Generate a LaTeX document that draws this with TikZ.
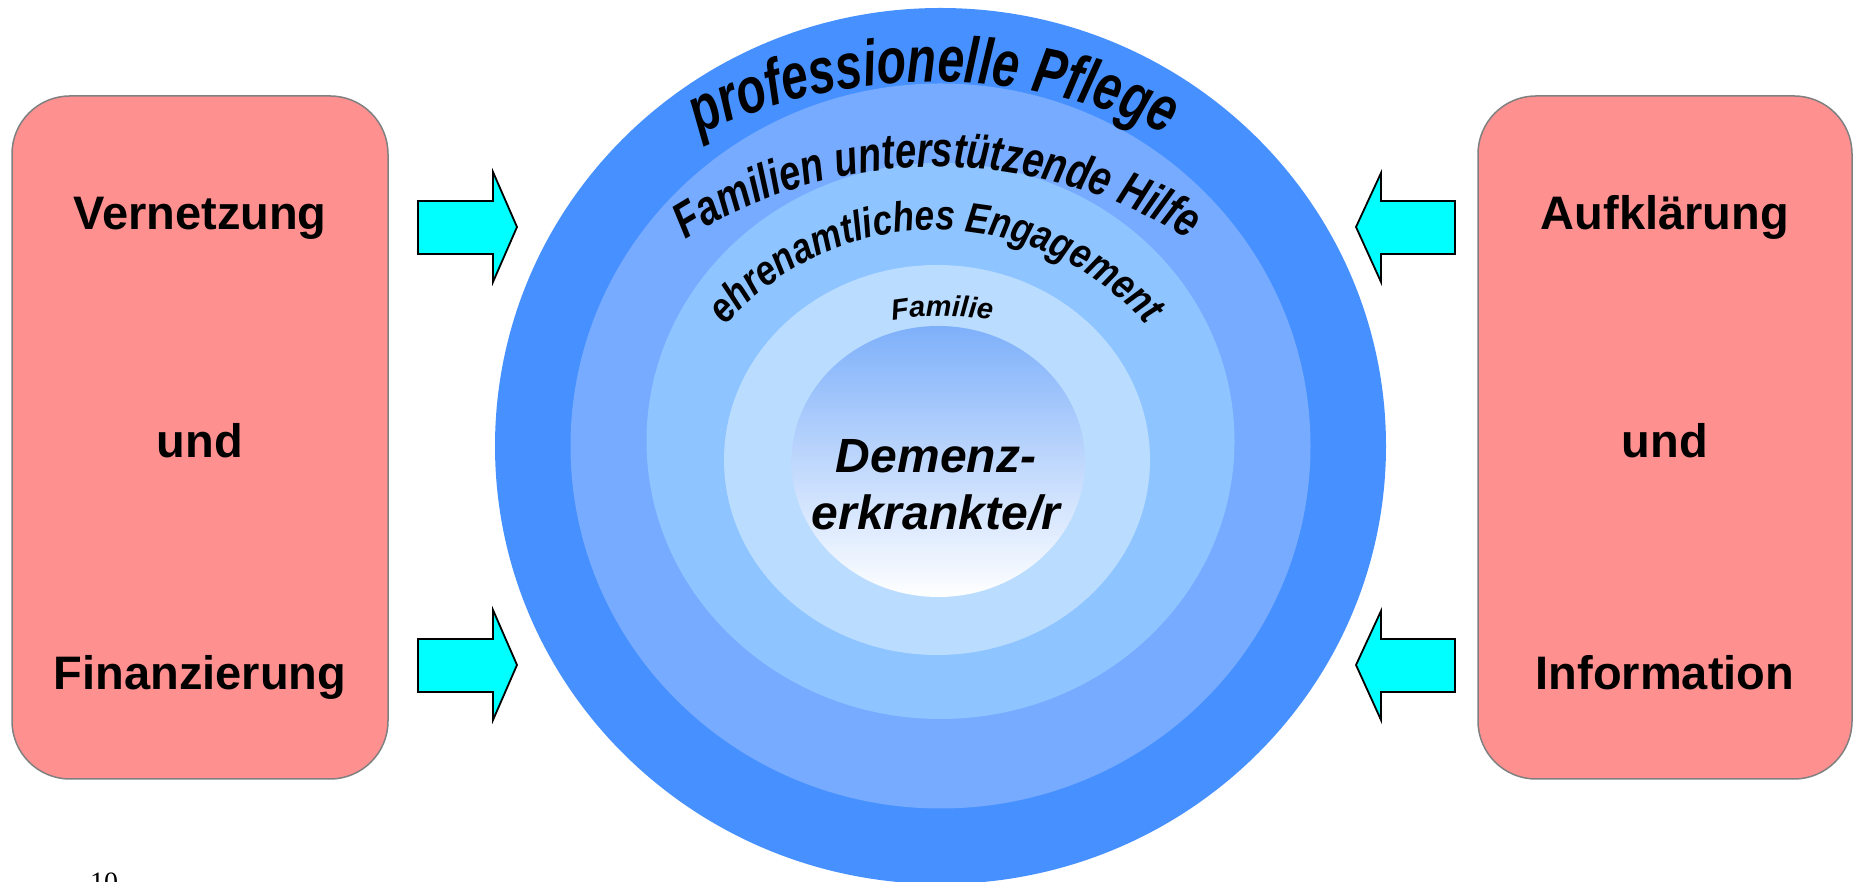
\documentclass[tikz,border=0pt]{standalone}
\usepackage{fontspec}
\newfontfamily\lsans{Liberation Sans}
\newfontfamily\lserif{Liberation Serif}
\usetikzlibrary{decorations.text}
\definecolor{ringA}{RGB}{70,144,255}
\definecolor{ringB}{RGB}{119,171,255}
\definecolor{ringC}{RGB}{142,196,255}
\definecolor{ringD}{RGB}{186,220,255}
\definecolor{coreTop}{RGB}{126,176,250}
\definecolor{coreMid}{RGB}{200,212,252}
\definecolor{boxred}{RGB}{255,144,144}
\definecolor{boxgray}{RGB}{128,128,128}
\definecolor{arrowcyan}{RGB}{0,255,255}
\newcommand\arcfontA{\lsans\bfseries\itshape\fontsize{48}{58}\selectfont}
\newcommand\arcfontB{\lsans\bfseries\itshape\fontsize{38}{46}\selectfont}
\newcommand\arcfontC{\lsans\bfseries\itshape\fontsize{35}{42}\selectfont}
\newcommand\arcfontD{\lsans\bfseries\itshape\fontsize{29}{34}\selectfont}
\begin{document}
\begin{tikzpicture}[x=1pt,y=1pt,
  sidebox/.style={draw=boxgray, line width=1.5pt, fill=boxred, rounded corners=58pt,
    minimum width=376pt, minimum height=683pt, inner sep=0pt},
  boxtext/.style={font=\lsans\bfseries\fontsize{47}{56}\selectfont, anchor=base, inner sep=0pt},
  coretext/.style={font=\lsans\bfseries\itshape\fontsize{48}{56}\selectfont, anchor=base, inner sep=0pt},
  blockarrow/.style={draw=black, line width=1.8pt, fill=arrowcyan, line join=miter},
  arctext/.style n args={3}{decorate, decoration={text effects along path, text={#1}, text align=center,
    text effects/.cd, text along path, characters={font=#2, yscale=#3}}}
]
\useasboundingbox (0,0) rectangle (1853,882);

% side boxes
\node[sidebox] (lbox) at (200,444.5) {};
\node[sidebox, minimum width=374pt] (rbox) at (1665,444.5) {};
\node[boxtext] (l1) at (200,652) {Vernetzung};
\node[boxtext] (l2) at (200,424) {und};
\node[boxtext] (l3) at (200,192) {Finanzierung};
\node[boxtext] (r1) at (1665,652) {Aufklärung};
\node[boxtext] (r2) at (1665,424) {und};
\node[boxtext] (r3) at (1665,192) {Information};

% rings
\fill[ringA] (940.5,436) ellipse [x radius=445.5, y radius=438];
\fill[ringB] (940.5,436) ellipse [x radius=370, y radius=362.5];
\fill[ringC] (940.5,441) ellipse [x radius=294, y radius=278];
\fill[ringD] (937,422) ellipse [x radius=213, y radius=195];
\shade[top color=coreTop, middle color=coreMid, bottom color=white] (938.3,420.5) ellipse [x radius=146.7, y radius=135.5];

% core text
\node[coretext] (c1) at (936,409) {Demenz-};
\node[coretext] (c2) at (936,352) {erkrankte/r};

% arc texts
\path[arctext={professionelle Pflege}{\arcfontA}{1.35}] ([shift={(150:540)}]933,260) arc[start angle=150, end angle=30, radius=540];
\path[arctext={Familien unterstützende Hilfe}{\arcfontB}{1.3}] ([shift={(160:470)}]937,245) arc[start angle=160, end angle=20, radius=470];
\path[arctext={ehrenamtliches Engagement}{\arcfontC}{1.2}] ([shift={(170:280)}]936,372) arc[start angle=170, end angle=10, radius=280];
\path[arctext={Familie}{\arcfontD}{1.0}] ([shift={(120:300)}]942,266) arc[start angle=120, end angle=60, radius=300];

% arrows
\draw[blockarrow] (418,628) -- (493,628) -- (493,600) -- (517,655) -- (493,710) -- (493,681) -- (418,681) -- cycle;
\draw[blockarrow] (418,190) -- (493,190) -- (493,162) -- (517,217) -- (493,272) -- (493,243) -- (418,243) -- cycle;
\draw[blockarrow] (1455,628) -- (1381,628) -- (1381,600) -- (1356,655) -- (1381,709) -- (1381,681) -- (1455,681) -- cycle;
\draw[blockarrow] (1455,190) -- (1381,190) -- (1381,162) -- (1356,217) -- (1381,271) -- (1381,243) -- (1455,243) -- cycle;

% page number
\node[font=\lserif\fontsize{28}{34}\selectfont, anchor=base west, inner sep=0pt] (pg) at (90,-10) {10};
\end{tikzpicture}
\end{document}
